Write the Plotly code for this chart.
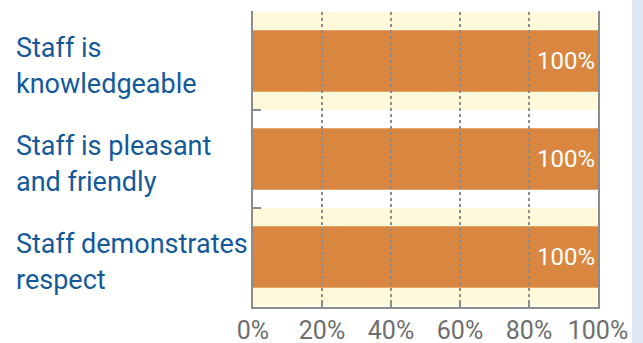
import plotly.graph_objects as go

categories = ["Staff is<br>knowledgeable", "Staff is pleasant<br>and friendly", "Staff demonstrates<br>respect"]
values = [100, 100, 100]
value_labels = ["100%", "100%", "100%"]
tick_vals = [0, 20, 40, 60, 80, 100]
tick_text = ["0%", "20%", "40%", "60%", "80%", "100%"]

ORANGE = "#D98740"
YELLOW = "#FEF9DB"
BLUE_TXT = "#145A9A"
GREY_TXT = "#6E6E6E"
AXIS = "#8C8C8C"
PANEL = "#DDE8F4"
FONT = "Roboto, Arial, sans-serif"

fig = go.Figure()
fig.add_trace(go.Bar(
    y=categories, x=values, orientation="h",
    marker=dict(color=ORANGE, line=dict(width=0)),
    width=0.63,
    text=value_labels, textposition="inside", insidetextanchor="end",
    textfont=dict(color="white", size=24, family=FONT),
    hoverinfo="skip",
))

shapes = []
# alternating background bands (categories 1 and 3)
for i, c in enumerate(categories):
    if i % 2 == 0:
        shapes.append(dict(type="rect", xref="x", yref="y", x0=tick_vals[0], x1=tick_vals[-1],
                           y0=i - 0.5, y1=i + 0.5, fillcolor=YELLOW, line=dict(width=0), layer="below"))
# dotted gridlines drawn above the bars
for v in tick_vals[1:-1]:
    shapes.append(dict(type="line", xref="x", yref="y", x0=v, x1=v, y0=-0.5, y1=len(categories) - 0.5,
                       line=dict(color=AXIS, width=2, dash="dot"), layer="above"))
# light blue panel on the right edge
shapes.append(dict(type="rect", xref="paper", yref="paper", x0=1.099, x1=1.2, y0=-0.2, y1=1.1,
                   fillcolor=PANEL, line=dict(width=0), layer="below"))

# category labels, one annotation per line for looser line spacing
annotations = []
line_shifts = [13, -23]
for c in categories:
    for k, line in enumerate(c.split("<br>")):
        annotations.append(dict(xref="paper", yref="y", x=-0.692, y=c, text=line, showarrow=False,
                                xanchor="left", yanchor="middle", align="left", yshift=line_shifts[k],
                                font=dict(color=BLUE_TXT, size=27, family=FONT)))

fig.update_layout(
    width=643, height=343,
    margin=dict(l=253, r=45, t=11, b=36, autoexpand=False),
    paper_bgcolor="white", plot_bgcolor="rgba(0,0,0,0)",
    showlegend=False,
    shapes=shapes, annotations=annotations,
    bargap=0.37,
)
fig.update_xaxes(
    range=[tick_vals[0], tick_vals[-1]], tickvals=tick_vals, ticktext=tick_text,
    showgrid=False, zeroline=False,
    showline=True, linecolor=AXIS, linewidth=2,
    ticks="inside", ticklen=7, tickwidth=2, tickcolor=AXIS,
    tickfont=dict(color=GREY_TXT, size=25, family=FONT),
    ticklabelstandoff=0, automargin=False,
    fixedrange=True,
)
fig.update_yaxes(
    autorange="reversed", showticklabels=False,
    showgrid=False, zeroline=False,
    showline=True, linecolor=AXIS, linewidth=2, mirror=True,
    ticks="inside", tickson="boundaries", ticklen=8, tickwidth=2, tickcolor=AXIS,
    automargin=False,
    fixedrange=True,
)

fig.write_html("out.html", config={"displayModeBar": False})
